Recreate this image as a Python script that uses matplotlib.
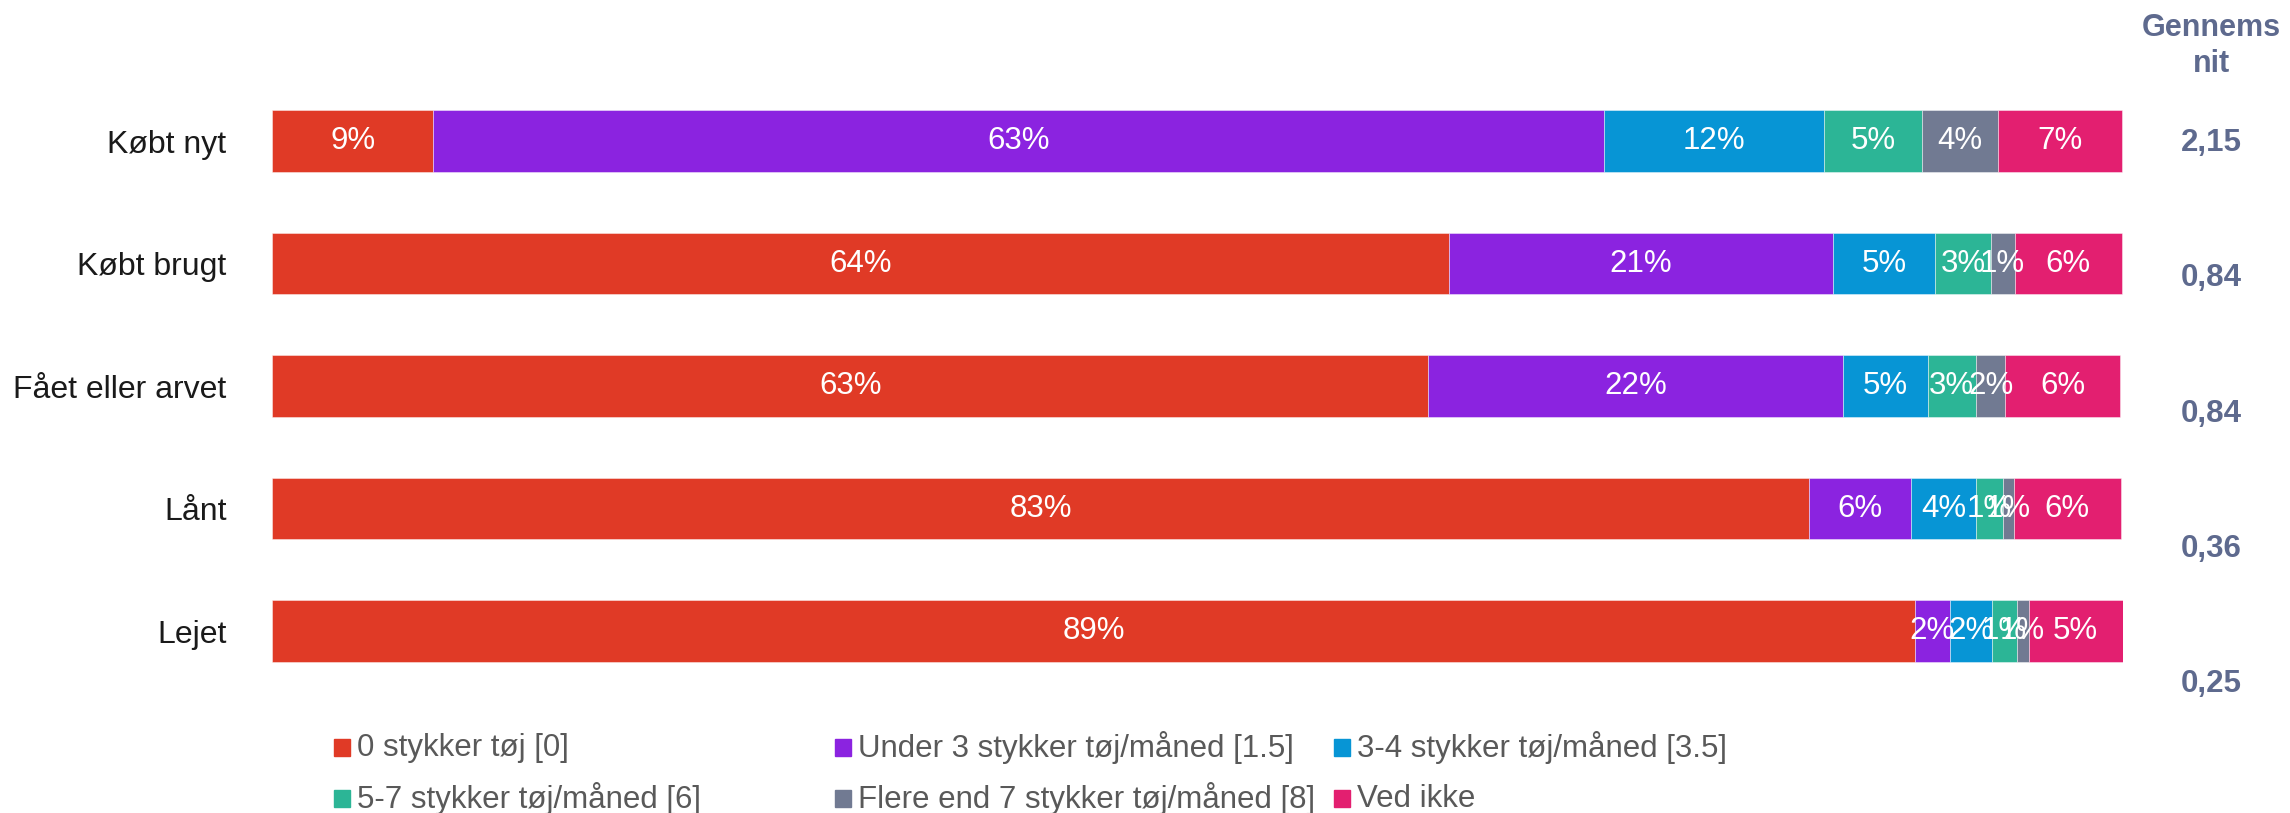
import matplotlib
matplotlib.use("Agg")
import matplotlib.pyplot as plt
from matplotlib.patches import Rectangle
import numpy as np

plt.rcParams['font.family'] = ['Liberation Sans', 'DejaVu Sans']

categories = ["Købt nyt", "Købt brugt", "Fået eller arvet", "Lånt", "Lejet"]
series_names = ["0 stykker tøj [0]", "Under 3 stykker tøj/måned [1.5]",
                "3-4 stykker tøj/måned [3.5]", "5-7 stykker tøj/måned [6]",
                "Flere end 7 stykker tøj/måned [8]", "Ved ikke"]
colors = ["#E03A26", "#8B23E0", "#0795D5", "#2CB596", "#717A92", "#E31F70"]

s0 = [8.7, 63.6, 62.5, 83.1, 88.8]
s1 = [63.3, 20.8, 22.4, 5.5, 1.9]
s2 = [11.9, 5.5, 4.6, 3.5, 2.3]
s3 = [5.3, 3.0, 2.6, 1.45, 1.3]
s4 = [4.1, 1.3, 1.6, 0.6, 0.65]
s5 = [6.7, 5.8, 6.2, 5.8, 5.1]
labels0 = ["9%", "64%", "63%", "83%", "89%"]
labels1 = ["63%", "21%", "22%", "6%", "2%"]
labels2 = ["12%", "5%", "5%", "4%", "2%"]
labels3 = ["5%", "3%", "3%", "1%", "1%"]
labels4 = ["4%", "1%", "2%", "1%", "1%"]
labels5 = ["7%", "6%", "6%", "6%", "5%"]
averages = ["2,15", "0,84", "0,84", "0,36", "0,25"]
avg_header = "Gennems\nnit"

series = [s0, s1, s2, s3, s4, s5]
labels = [labels0, labels1, labels2, labels3, labels4, labels5]

W, H = 2290, 813
fig = plt.figure(figsize=(W / 100, H / 100), dpi=100)
ax = fig.add_axes([272.3 / W, 1 - 692.25 / H, (2122.9 - 272.3) / W, (692.25 - 79.75) / H])

y = np.arange(len(categories))
left = np.zeros(len(categories))
for vals, labs, col in zip(series, labels, colors):
    vals = np.array(vals)
    ax.barh(y, vals, left=left, height=0.5, color=col, edgecolor=(1, 1, 1, 0.5), linewidth=0.6)
    for yi, (l, v, t) in enumerate(zip(left, vals, labs)):
        ax.text(l + v / 2, yi, t, ha="center", va="center", color="white", fontsize=22.5)
    left += vals

ax.set_xlim(0, left.max())
ax.set_ylim(len(categories) - 0.5, -0.5)
ax.set_yticks(y)
ax.set_yticklabels(categories, fontsize=23, color="#1a1a1a")
ax.tick_params(axis="y", length=0, pad=33)
ax.set_xticks([])
for sp in ax.spines.values():
    sp.set_visible(False)

# averages column
avg_color = "#5E6A8E"
fig.text(2211 / W, 1 - 46 / H, avg_header, ha="center", va="center", fontsize=22,
         fontweight="bold", color=avg_color, linespacing=1.25)
y0, step = 143, 135.25
for i, a in enumerate(averages):
    fig.text(2211 / W, 1 - (y0 + i * step) / H, a, ha="center", va="center",
             fontsize=22.5, fontweight="bold", color=avg_color)

# legend (row-wise, fixed column positions)
col_x = [334, 835, 1334]
row_y = [747.5, 798.5]
for i, (name, col) in enumerate(zip(series_names, colors)):
    r, c = divmod(i, 3)
    x = col_x[c]
    yy = row_y[r]
    fig.patches.append(Rectangle((x / W, 1 - (yy + 8.5) / H), 16 / W, 17 / H,
                                 transform=fig.transFigure, color=col))
    fig.text((x + 23) / W, 1 - yy / H, name, ha="left", va="center",
             fontsize=22.5, color="#595959")

fig.savefig("out.png", dpi=100)
